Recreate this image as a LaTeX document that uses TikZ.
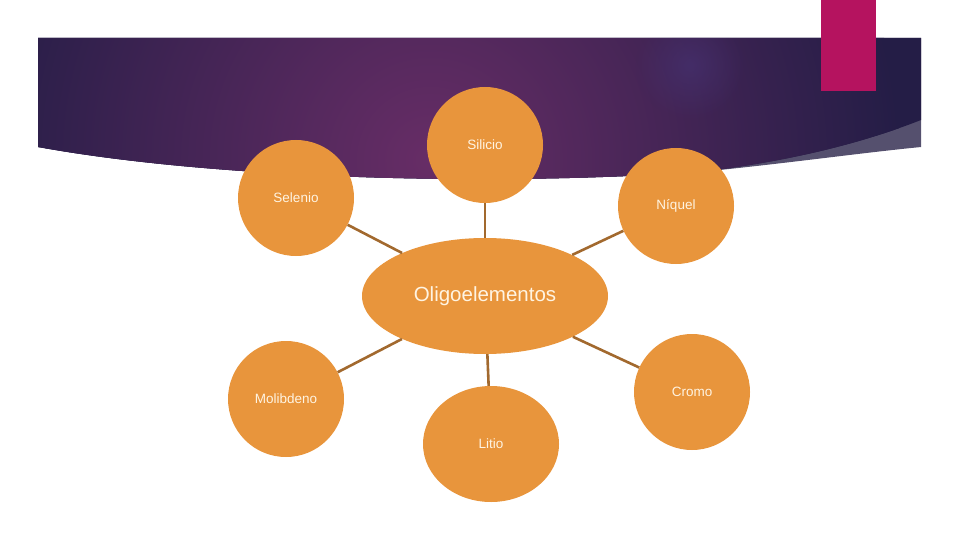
\documentclass[tikz,border=0pt]{standalone}
\usepackage{fontspec}
\setmainfont{Liberation Sans}
\usetikzlibrary{shapes.geometric, fadings}
\definecolor{banner}{HTML}{241D46}
\definecolor{bannerglow}{HTML}{672D66}
\definecolor{bannerspot}{HTML}{45306E}
\definecolor{strip}{HTML}{55506E}
\definecolor{accent}{HTML}{B5135F}
\definecolor{orangefill}{HTML}{E8953C}
\definecolor{labelcream}{HTML}{FFF4E2}
\definecolor{linkbrown}{HTML}{A2692E}
\tikzfading[name=spotfade, inner color=transparent!25, outer color=transparent!100]
\tikzset{
    element/.style={
        circle,
        fill=orangefill,
        inner sep=0pt,
        minimum size=116pt,
        align=center,
        text=labelcream,
        font=\fontsize{13.5}{16}\selectfont
    },
    hub/.style={
        ellipse,
        fill=orangefill,
        inner sep=0pt,
        minimum width=246pt,
        minimum height=116pt,
        align=center,
        text=labelcream,
        font=\fontsize{20.5}{24}\selectfont
    },
    link/.style={
        draw=linkbrown,
        line width=2.6pt
    }
}

\begin{document}
\begin{tikzpicture}[x=1pt, y=-1pt]

    \useasboundingbox (0,0) rectangle (960,540);

    % Banner
    \fill[strip] (38,147) .. controls (220,180) and (500,186) .. (700,172)
        .. controls (790,163) and (860,153) .. (921,147) -- (921,38) -- (38,38) -- cycle;
    \fill[banner] (38,147) .. controls (220,180) and (500,186) .. (700,172)
        .. controls (800,160) and (870,140) .. (921,120) -- (921,38) -- (38,38) -- cycle;
    \begin{scope}
        \clip (38,147) .. controls (220,180) and (500,186) .. (700,172)
            .. controls (800,160) and (870,140) .. (921,120) -- (921,38) -- (38,38) -- cycle;
        \shade[inner color=bannerglow, outer color=banner] (430,160) circle (470);
        \fill[bannerspot, path fading=spotfade] (690,65) circle (55);
    \end{scope}
    \fill[accent] (821,0) rectangle (876,91);

    % Elements
    \node[hub] (oligo) at (485,296) {Oligoelementos};
    \node[element] (silicio) at (485,145) {Silicio};
    \node[element] (selenio) at (296,198) {Selenio};
    \node[element] (niquel) at (676,206) {Níquel};
    \node[element] (molibdeno) at (286,399) {Molibdeno};
    \node[element, ellipse, minimum width=136pt, minimum height=116pt] (litio) at (491,444) {Litio};
    \node[element] (cromo) at (692,392) {Cromo};

    % Links
    \draw[link] (oligo) -- (silicio);
    \draw[link] (oligo) -- (selenio);
    \draw[link] (oligo) -- (niquel);
    \draw[link] (oligo) -- (molibdeno);
    \draw[link] (oligo) -- (litio);
    \draw[link] (oligo) -- (cromo);

\end{tikzpicture}
\end{document}
